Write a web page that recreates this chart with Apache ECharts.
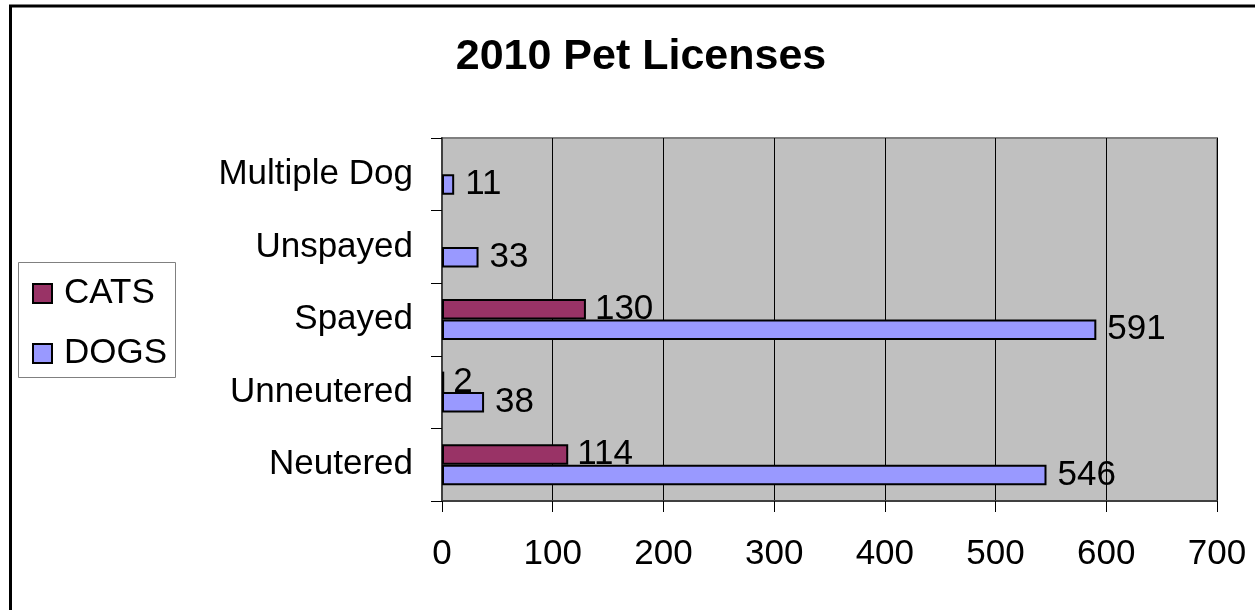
<!DOCTYPE html>
<html>
<head>
<meta charset="utf-8">
<script src="https://cdn.jsdelivr.net/npm/echarts@6/dist/echarts.min.js"></script>
<style>
html,body{margin:0;padding:0;background:#fff;}
#chart{width:1255px;height:610px;}
</style>
</head>
<body>
<div id="chart"></div>
<script>
const categories = ['Neutered', 'Unneutered', 'Spayed', 'Unspayed', 'Multiple Dog'];
const catsValues = [114, 2, 130, null, null];
const dogsValues = [546, 38, 591, 33, 11];
const xTicks = [0, 100, 200, 300, 400, 500, 600, 700];

const FONT = 'Liberation Sans, Arial, sans-serif';
const chart = echarts.init(document.getElementById('chart'));
chart.setOption({
  animation: false,
  backgroundColor: '#fff',
  title: {
    text: '2010 Pet Licenses',
    left: 641,
    top: 57,
    textAlign: 'center',
    textVerticalAlign: 'middle',
    padding: 0,
    textStyle: { fontFamily: FONT, fontSize: 43, fontWeight: 'bold', color: '#000' }
  },
  graphic: [
    { type: 'rect', shape: { x: 10.5, y: 6, width: 1400, height: 800 },
      style: { fill: 'none', stroke: '#000', lineWidth: 3 }, z: 100 },
    { type: 'rect', shape: { x: 18.5, y: 262.5, width: 157, height: 115 },
      style: { fill: '#fff', stroke: '#808080', lineWidth: 1 }, z: 0 }
  ],
  legend: {
    orient: 'vertical',
    left: 32,
    top: 276,
    padding: 0,
    itemWidth: 19,
    itemHeight: 19,
    itemGap: 25,
    icon: 'rect',
    z: 10,
    textStyle: { fontFamily: FONT, fontSize: 35, color: '#000', padding: [0, 0, 0, 7] },
    data: ['CATS', 'DOGS']
  },
  grid: {
    left: 442, right: 38, top: 138, bottom: 109,
    show: true, backgroundColor: '#C0C0C0', borderColor: '#808080', borderWidth: 2,
    containLabel: false
  },
  xAxis: {
    type: 'value',
    min: 0, max: 700, interval: 100,
    axisLine: { show: true, lineStyle: { color: '#404040', width: 2 } },
    axisTick: { show: true, length: 11, lineStyle: { color: '#000', width: 1 } },
    axisLabel: {
      fontFamily: FONT, fontSize: 35, color: '#000', margin: 36,
      formatter: v => xTicks.includes(v) ? String(v) : ''
    },
    splitLine: { show: true, lineStyle: { color: '#000', width: 1 } }
  },
  yAxis: {
    type: 'category',
    data: categories,
    axisLine: { show: true, lineStyle: { color: '#404040', width: 2 } },
    axisTick: { show: true, length: 11, inside: false, lineStyle: { color: '#000', width: 1 } },
    axisLabel: { fontFamily: FONT, fontSize: 35, color: '#000', margin: 29 },
    splitLine: { show: false }
  },
  series: [
    {
      name: 'CATS', type: 'bar', data: catsValues,
      barWidth: 20.5, barGap: '0%',
      itemStyle: { color: '#993366', borderColor: '#000', borderWidth: 2 },
      label: { show: true, position: 'right', distance: 9, fontFamily: FONT, fontSize: 35, color: '#000' }
    },
    {
      name: 'DOGS', type: 'bar', data: dogsValues,
      barWidth: 20.5, barGap: '0%',
      itemStyle: { color: '#9999FF', borderColor: '#000', borderWidth: 2 },
      label: { show: true, position: 'right', distance: 11, fontFamily: FONT, fontSize: 35, color: '#000' }
    }
  ]
});
</script>
</body>
</html>
